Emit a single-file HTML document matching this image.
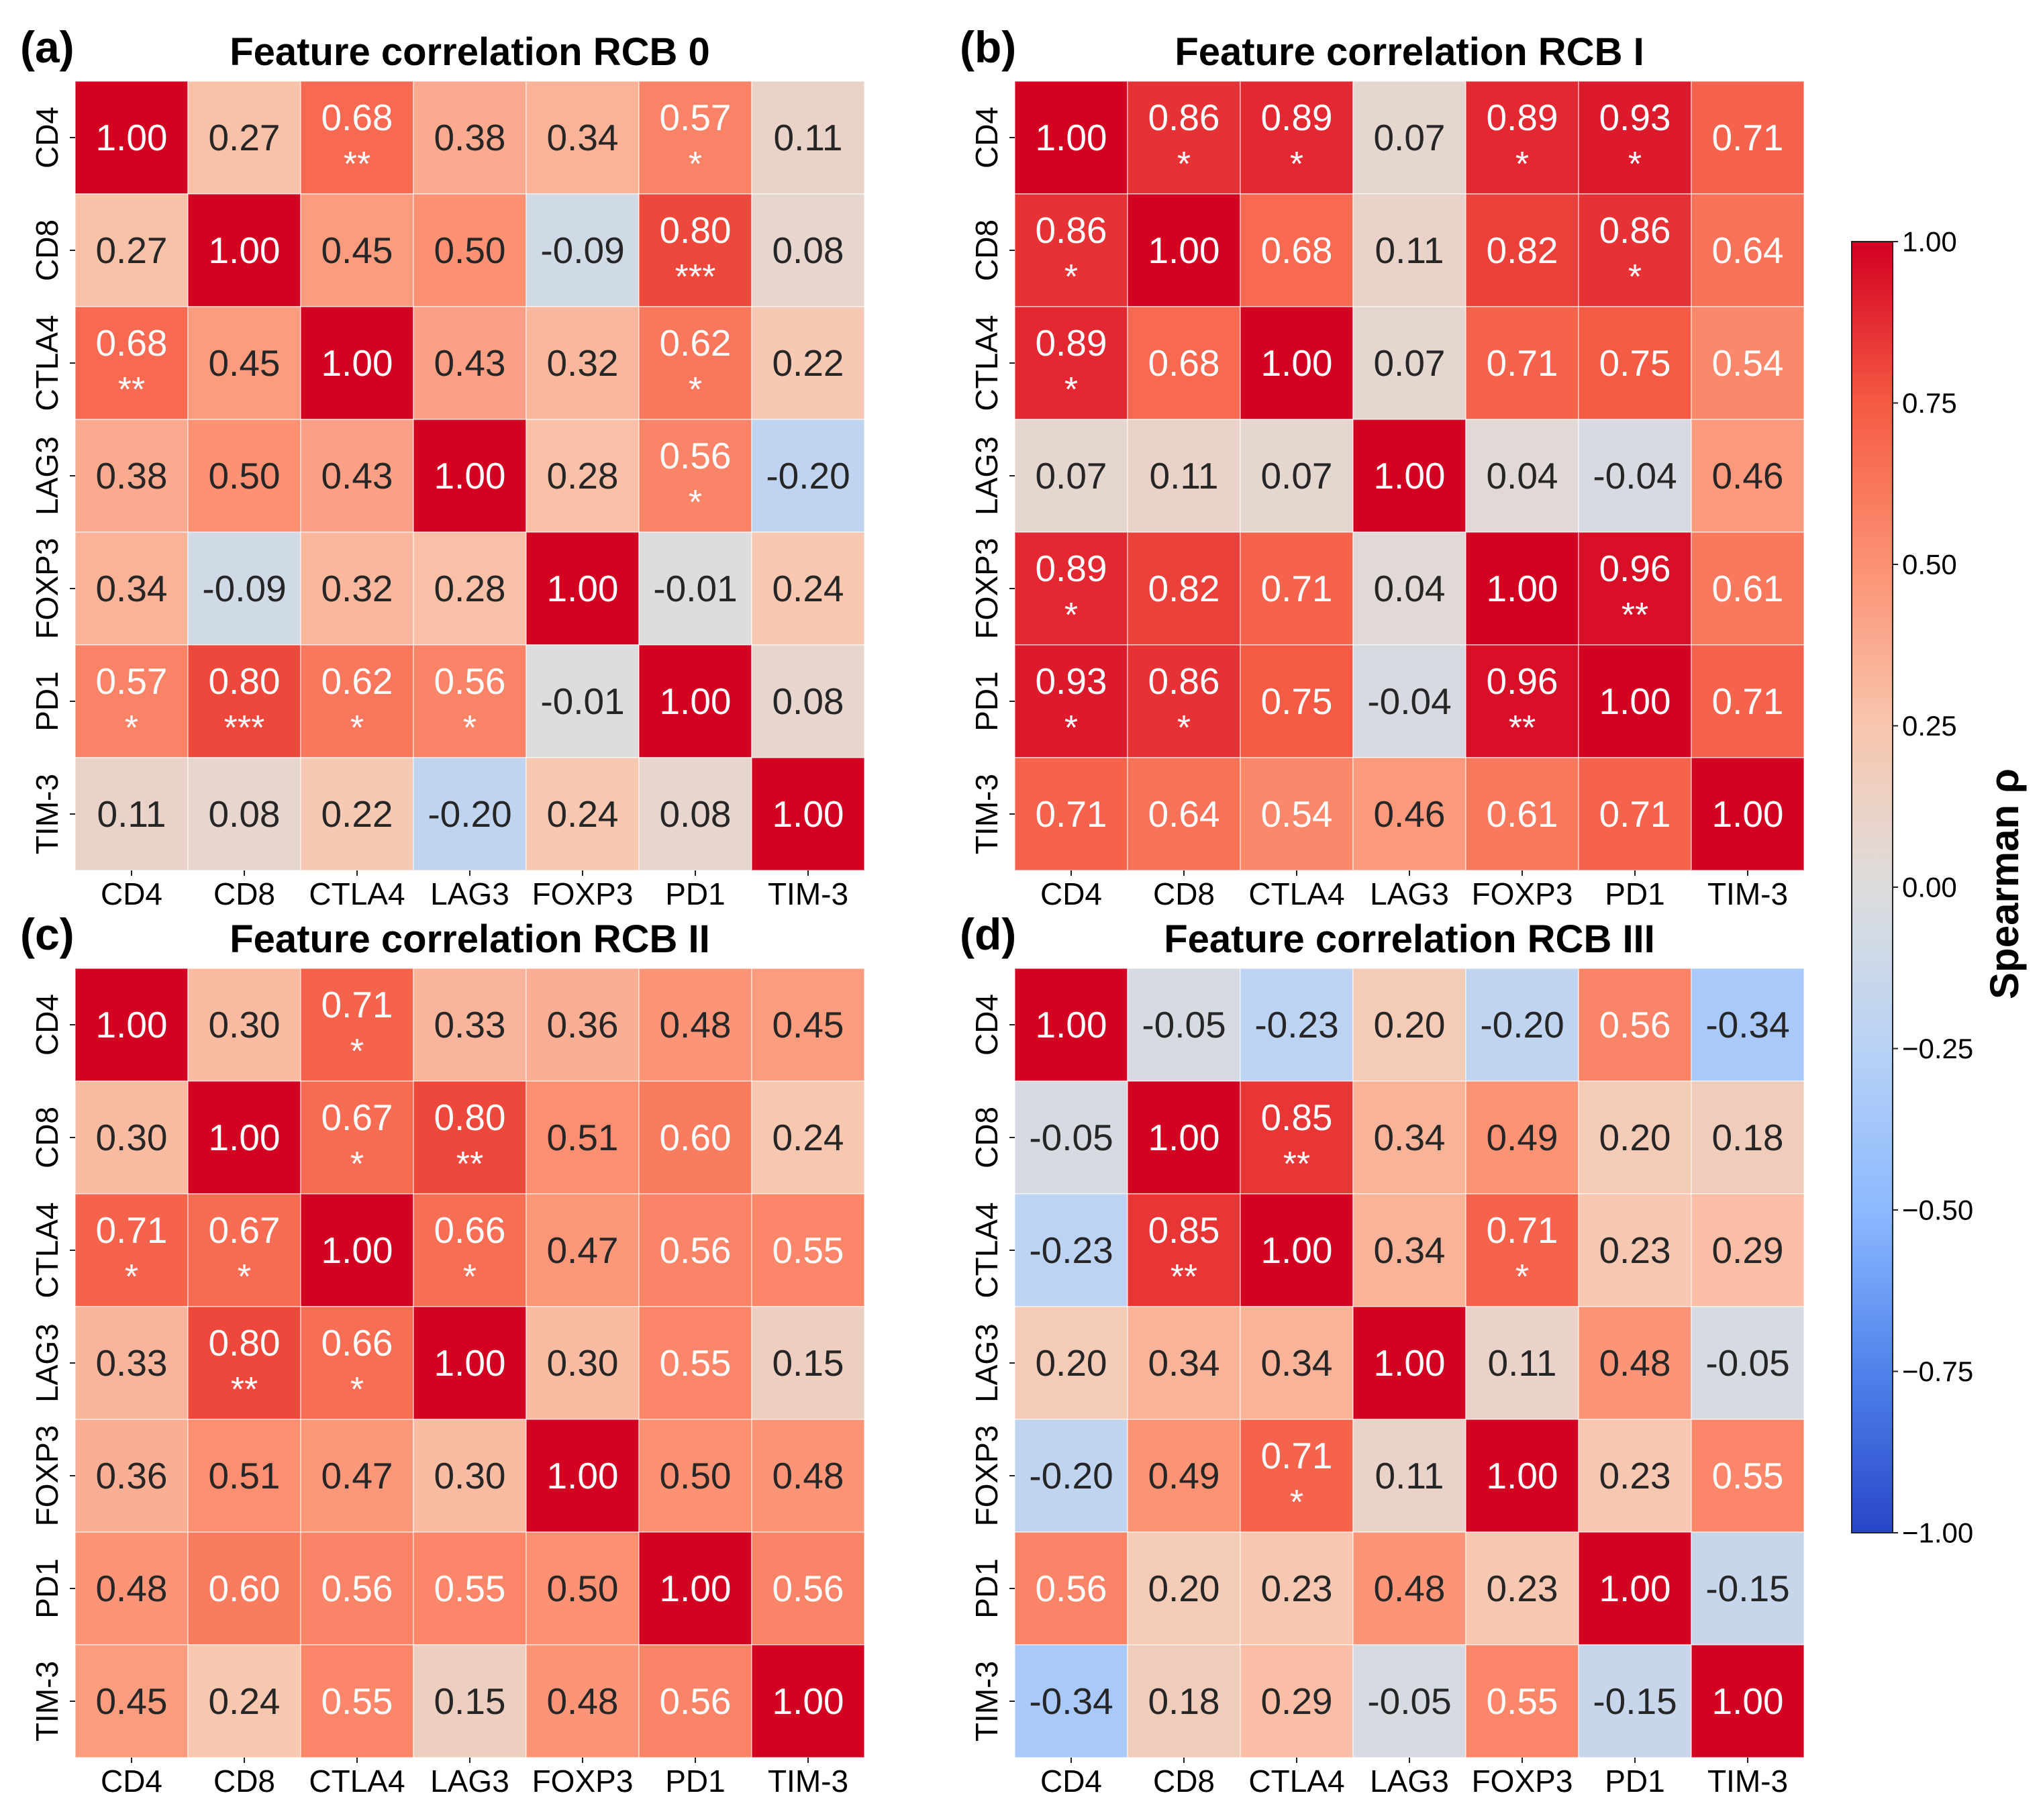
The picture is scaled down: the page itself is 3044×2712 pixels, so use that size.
<!DOCTYPE html>
<html><head><meta charset="utf-8"><style>
html,body{margin:0;padding:0;background:#fff;}
svg text{font-family:"Liberation Sans",Arial,sans-serif;}
</style></head><body>
<svg id="fig" width="3044" height="2707" viewBox="0 0 3044 2707" xmlns="http://www.w3.org/2000/svg">
<defs>
<linearGradient id="cbgrad" x1="0" y1="1" x2="0" y2="0">
<stop offset="0" stop-color="rgb(40,70,200)"/>
<stop offset="0.125" stop-color="rgb(80,130,235)"/>
<stop offset="0.25" stop-color="rgb(140,185,255)"/>
<stop offset="0.375" stop-color="rgb(185,210,245)"/>
<stop offset="0.5" stop-color="rgb(221,221,221)"/>
<stop offset="0.625" stop-color="rgb(248,198,174)"/>
<stop offset="0.75" stop-color="rgb(252,145,115)"/>
<stop offset="0.875" stop-color="rgb(245,90,68)"/>
<stop offset="1" stop-color="rgb(212,0,34)"/>
</linearGradient>
</defs>
</svg>
<script>
const labels = ["CD4","CD8","CTLA4","LAG3","FOXP3","PD1","TIM-3"];
const panelTitles = ["Feature correlation RCB 0","Feature correlation RCB I","Feature correlation RCB II","Feature correlation RCB III"];
const panelLetters = ["(a)","(b)","(c)","(d)"];
const valuesA = [
[1.00,0.27,0.68,0.38,0.34,0.57,0.11],
[0.27,1.00,0.45,0.50,-0.09,0.80,0.08],
[0.68,0.45,1.00,0.43,0.32,0.62,0.22],
[0.38,0.50,0.43,1.00,0.28,0.56,-0.20],
[0.34,-0.09,0.32,0.28,1.00,-0.01,0.24],
[0.57,0.80,0.62,0.56,-0.01,1.00,0.08],
[0.11,0.08,0.22,-0.20,0.24,0.08,1.00]];
const starsA = [
["","","**","","","*",""],
["","","","","","***",""],
["**","","","","","*",""],
["","","","","","*",""],
["","","","","","",""],
["*","***","*","*","","",""],
["","","","","","",""]];
const valuesB = [
[1.00,0.86,0.89,0.07,0.89,0.93,0.71],
[0.86,1.00,0.68,0.11,0.82,0.86,0.64],
[0.89,0.68,1.00,0.07,0.71,0.75,0.54],
[0.07,0.11,0.07,1.00,0.04,-0.04,0.46],
[0.89,0.82,0.71,0.04,1.00,0.96,0.61],
[0.93,0.86,0.75,-0.04,0.96,1.00,0.71],
[0.71,0.64,0.54,0.46,0.61,0.71,1.00]];
const starsB = [
["","*","*","","*","*",""],
["*","","","","","*",""],
["*","","","","","",""],
["","","","","","",""],
["*","","","","","**",""],
["*","*","","","**","",""],
["","","","","","",""]];
const valuesC = [
[1.00,0.30,0.71,0.33,0.36,0.48,0.45],
[0.30,1.00,0.67,0.80,0.51,0.60,0.24],
[0.71,0.67,1.00,0.66,0.47,0.56,0.55],
[0.33,0.80,0.66,1.00,0.30,0.55,0.15],
[0.36,0.51,0.47,0.30,1.00,0.50,0.48],
[0.48,0.60,0.56,0.55,0.50,1.00,0.56],
[0.45,0.24,0.55,0.15,0.48,0.56,1.00]];
const starsC = [
["","","*","","","",""],
["","","*","**","","",""],
["*","*","","*","","",""],
["","**","*","","","",""],
["","","","","","",""],
["","","","","","",""],
["","","","","","",""]];
const valuesD = [
[1.00,-0.05,-0.23,0.20,-0.20,0.56,-0.34],
[-0.05,1.00,0.85,0.34,0.49,0.20,0.18],
[-0.23,0.85,1.00,0.34,0.71,0.23,0.29],
[0.20,0.34,0.34,1.00,0.11,0.48,-0.05],
[-0.20,0.49,0.71,0.11,1.00,0.23,0.55],
[0.56,0.20,0.23,0.48,0.23,1.00,-0.15],
[-0.34,0.18,0.29,-0.05,0.55,-0.15,1.00]];
const starsD = [
["","","","","","",""],
["","","**","","","",""],
["","**","","","*","",""],
["","","","","","",""],
["","","*","","","",""],
["","","","","","",""],
["","","","","","",""]];
const cbTicks = [1.00,0.75,0.50,0.25,0.00,-0.25,-0.50,-0.75,-1.00];

const NS="http://www.w3.org/2000/svg";
const svg=document.getElementById('fig');
function mk(tag,attrs,parent){const e=document.createElementNS(NS,tag);for(const k in attrs)e.setAttribute(k,attrs[k]);(parent||svg).appendChild(e);return e;}
const stops=[[-1,[40,70,200]],[-0.75,[80,130,235]],[-0.5,[140,185,255]],[-0.25,[185,210,245]],[0,[221,221,221]],[0.25,[248,198,174]],[0.5,[252,145,115]],[0.75,[245,90,68]],[1,[212,0,34]]];
function color(v){v=Math.max(-1,Math.min(1,v));for(let i=0;i<stops.length-1;i++){const a=stops[i],b=stops[i+1];if(v<=b[0]){const t=(v-a[0])/(b[0]-a[0]);const c=a[1].map((x,j)=>Math.round(x+(b[1][j]-x)*t));return `rgb(${c[0]},${c[1]},${c[2]})`;}}return 'rgb(212,0,34)';}
const CELL=168;
const panels=[{x:112,y:121,v:valuesA,s:starsA},{x:1512,y:121,v:valuesB,s:starsB},{x:112,y:1443,v:valuesC,s:starsC},{x:1512,y:1443,v:valuesD,s:starsD}];
panels.forEach((p,pi)=>{
  const g=mk('g',{});
  
  
  const xs=i=>p.x+i*CELL, ys=i=>p.y+i*CELL;
  const t=mk('text',{x:p.x+588,y:p.y-24,'text-anchor':'middle','font-size':'58','font-weight':'bold'},g);
  t.textContent=panelTitles[pi];
  
  
  const l=mk('text',{x:p.x-82,y:p.y-28,'font-size':'66','font-weight':'bold'},g);
  l.textContent=panelLetters[pi];
  
  
  for(let r=0;r<7;r++)for(let c=0;c<7;c++){
    const v=p.v[r][c];
    const rect=mk('rect',{x:xs(c),y:ys(r),width:CELL,height:CELL,fill:color(v),stroke:'#fff','stroke-opacity':'0.6','stroke-width':'1.5'},g);
    
    
    const st=p.s[r][c];
    const tc=Math.abs(v)>=0.52?'#fff':'#262626';
    const tx=mk('text',{x:xs(c)+CELL/2,y:ys(r)+CELL/2+(st?-30:0),'text-anchor':'middle','dominant-baseline':'central','font-size':'55',fill:tc},g);
    tx.textContent=v.toFixed(2);
    
    
    if(st){const s2=mk('text',{x:xs(c)+CELL/2,y:ys(r)+CELL/2+40,'text-anchor':'middle','dominant-baseline':'central','font-size':'52',fill:tc},g);s2.textContent=st;
      
      }
  }
  for(let i=0;i<7;i++){
    mk('line',{x1:xs(i)+CELL/2,x2:xs(i)+CELL/2,y1:p.y+7*CELL,y2:p.y+7*CELL+8,stroke:'#222','stroke-width':'2'},g);
    const xl=mk('text',{x:xs(i)+CELL/2,y:p.y+7*CELL+51,'text-anchor':'middle','font-size':'46'},g);
    xl.textContent=labels[i];
    
    
    mk('line',{x1:p.x-8,x2:p.x,y1:ys(i)+CELL/2,y2:ys(i)+CELL/2,stroke:'#222','stroke-width':'2'},g);
    const cy=ys(i)+CELL/2;
    const yl=mk('text',{x:p.x-26,y:cy,'text-anchor':'middle','font-size':'46',transform:`rotate(-90 ${p.x-26} ${cy})`},g);
    yl.textContent=labels[i];
    
    
  }
});
const cb=mk('g',{});


const CBX=2759,CBW=61,CBT=360,CBB=2284;
const cbY=v=>CBT+(1-v)/2*(CBB-CBT);
mk('rect',{x:CBX,y:CBT,width:CBW,height:CBB-CBT,fill:'url(#cbgrad)',stroke:'#222','stroke-width':'2'},cb);
cbTicks.forEach(v=>{
  mk('line',{x1:CBX+CBW,x2:CBX+CBW+8,y1:cbY(v),y2:cbY(v),stroke:'#222','stroke-width':'2'},cb);
  const t=mk('text',{x:CBX+CBW+14,y:cbY(v),'dominant-baseline':'central','font-size':'42'},cb);
  t.textContent=(v<0?'\u2212':'')+Math.abs(v).toFixed(2);
  
  
});
const ct=mk('text',{x:3007,y:1317,'text-anchor':'middle','font-size':'60','font-weight':'bold',transform:'rotate(-90 3007 1317)'},cb);
ct.textContent='Spearman ρ';


</script>
</body></html>
